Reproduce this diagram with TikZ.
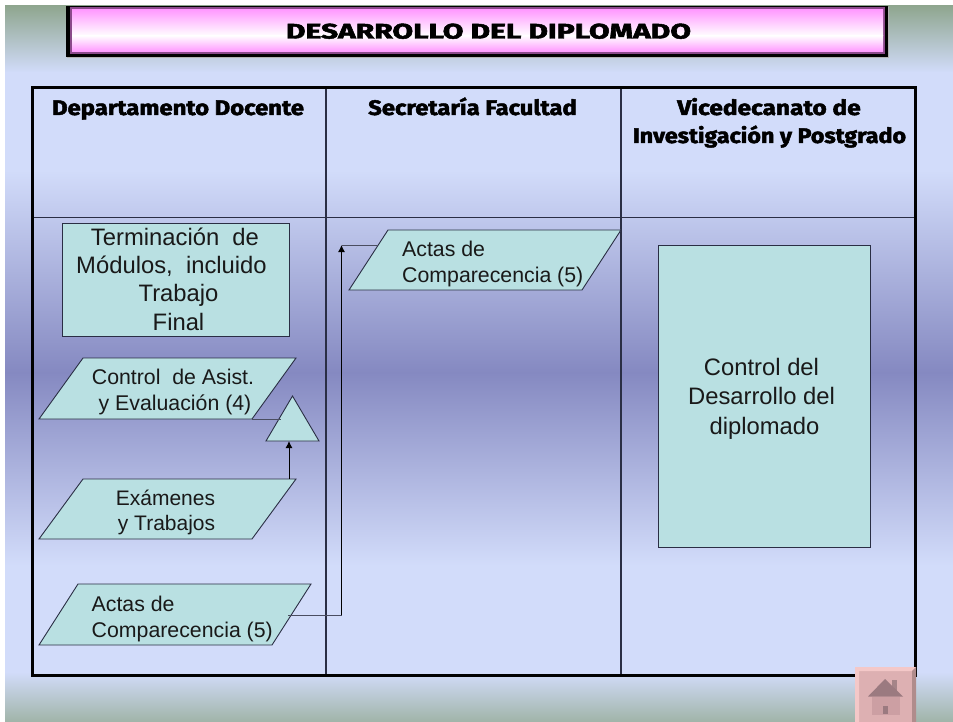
\documentclass[tikz,border=0pt]{standalone}
\usepackage{fontspec}
\setmainfont{Liberation Sans}
\newfontfamily\heavyfont[BoldFeatures={FakeBold=2.2}]{Fira Sans}
\usetikzlibrary{arrows.meta}
\newcommand{\hdr}[1]{\scalebox{1.135}[1]{#1}}
\definecolor{boxfill}{HTML}{B9E0E2}
\definecolor{linedark}{HTML}{2A2E44}
\definecolor{bgA}{HTML}{8FA68F}
\definecolor{bgB}{HTML}{D2DCFA}
\definecolor{bgC}{HTML}{8589C1}
\definecolor{bgD}{HTML}{A0B4A8}
\definecolor{titlepink}{HTML}{FF99FF}
\definecolor{titleedge}{HTML}{8A4A8A}
\definecolor{homeA}{HTML}{DDB0B2}
\definecolor{homeB}{HTML}{F4C8C8}
\definecolor{homeC}{HTML}{B08C8C}
\definecolor{homeD}{HTML}{A58488}
\definecolor{homeE}{HTML}{9B7A80}
\definecolor{homeF}{HTML}{CC9FA3}
\tikzset{
  x=1pt,y=-1pt,
  flowbox/.style={draw=linedark,line width=0.9pt,fill=boxfill},
  flowtext/.style={inner sep=0pt,align=center,text=black!90},
  headtext/.style={inner sep=0pt,anchor=base,font=\heavyfont\bfseries\fontsize{21}{30}\selectfont},
  txtL/.style={font=\fontsize{23.8}{28.4}\selectfont},
  txtC/.style={font=\fontsize{23.8}{29.5}\selectfont},
  txtM/.style={font=\fontsize{21.3}{26}\selectfont},
  txtN/.style={font=\fontsize{21}{25}\selectfont},
  thin rule/.style={draw=linedark,line width=1.1pt},
  connector/.style={draw=linedark!85,line width=0.9pt},
  arrowline/.style={draw=black,line width=1pt,-{Latex[length=7pt,width=7pt]}},
}
\begin{document}
\begin{tikzpicture}
\useasboundingbox (0,0) rectangle (953,722);
\fill[white] (0,0) rectangle (953,722);
% background
\shade[top color=bgA,bottom color=bgB] (5,6) rectangle (953,72.5);
\fill[bgB] (5,72) rectangle (953,170.5);
\shade[top color=bgB,bottom color=bgC] (5,170) rectangle (953,372.5);
\shade[top color=bgC,bottom color=bgB] (5,372) rectangle (953,565.5);
\fill[bgB] (5,565) rectangle (953,672.5);
\shade[top color=bgB,bottom color=bgD] (5,672) rectangle (953,722);
% title
\fill[gray!60!white] (67,7) rectangle (889,58);
\fill[black] (66,6) rectangle (888,57);
\fill[titleedge] (70,7.5) rectangle (885,54);
\shade[top color=titlepink,bottom color=white] (72,9.5) rectangle (883,36);
\shade[top color=white,bottom color=titlepink] (72,35.5) rectangle (883,51.5);
\node[headtext] (title) at (488.5,38.5) {\scalebox{1.43}[1]{DESARROLLO DEL DIPLOMADO}};
% table
\draw[thin rule] (326,87) -- (326,675);
\draw[thin rule] (621,87) -- (621,675);
\draw[thin rule] (32,217.5) -- (916,217.5);
\draw[black,line width=3pt] (32,87.5) rectangle (915.5,675);
\node[headtext] (h1) at (178,115) {\hdr{Departamento Docente}};
\node[headtext] (h2) at (472.5,115) {\hdr{Secretaría Facultad}};
\node[headtext] (h3a) at (769,115) {\scalebox{1.165}[1]{Vicedecanato de}};
\node[headtext] (h3b) at (769.5,143) {\scalebox{1.11}[1]{Investigación y Postgrado}};
% rectangles
\node[flowbox,minimum width=227pt,minimum height=113pt,inner sep=0pt] (term) at (175.5,279.5) {};
\node[flowtext,txtL] (termt) at (175,279) {Terminación\ \ de\\\hspace*{-7pt}Módulos,\ \ incluido\\\hspace*{7pt}Trabajo\\\hspace*{7pt}Final};
\node[flowbox,minimum width=212pt,minimum height=302pt,inner sep=0pt] (ctrl) at (764,396) {};
\node[flowtext,txtC] (ctrlt) at (761.5,398.5) {Control del\\Desarrollo del\\\hspace*{6pt}diplomado};
% parallelograms
\draw[flowbox] (388,230) -- (621,230) -- (582,290) -- (349,290) -- cycle;
\node[flowtext,txtM,align=left,anchor=west] (act1) at (402,264) {Actas de\\Comparecencia (5)};
\draw[flowbox] (83,358) -- (296,358) -- (252,419) -- (39,419) -- cycle;
\node[flowtext,txtM] (asis) at (173,392) {Control\ \ de Asist.\\\hspace*{4pt}y Evaluación (4)};
\draw[flowbox] (83,479) -- (296,479) -- (252,539) -- (39,539) -- cycle;
\node[flowtext,txtN] (exam) at (165.5,512.5) {Exámenes\\\hspace*{2pt}y Trabajos};
\draw[flowbox] (78,584) -- (311,584) -- (272,645) -- (39,645) -- cycle;
\node[flowtext,txtM,align=left,anchor=west] (act2) at (91.5,618.5) {Actas de\\Comparecencia (5)};
% triangle
\draw[flowbox] (292.5,396) -- (319,441) -- (266,441) -- cycle;
% connectors
\coordinate (asisOut) at (252,419);
\coordinate (triIn) at (281,419);
\coordinate (examOut) at (289,479);
\coordinate (triBase) at (289,441);
\coordinate (act2Out) at (288,615);
\coordinate (bendLow) at (341.5,615);
\coordinate (bendHigh) at (341.5,245);
\coordinate (act1In) at (378,245);
\draw[connector] (asisOut) -- (triIn);
\draw[arrowline] (examOut) -- (triBase);
\draw[connector] (act2Out) -- (bendLow);
\draw[arrowline] (bendLow) -- (bendHigh);
\draw[connector] (bendHigh) -- (act1In);
% home button
\fill[homeA] (855,667) rectangle (916,722);
\fill[homeB] (855,667) -- (916,667) -- (912,671) -- (859,671) -- (859,722) -- (855,722) -- cycle;
\fill[homeC] (916,667) -- (916,722) -- (912,722) -- (912,671) -- cycle;
\fill[homeD] (892,680) rectangle (897,692);
\fill[homeE] (885,679) -- (903,696.5) -- (868,696.5) -- cycle;
\fill[homeF] (872,696.5) rectangle (899.5,715);
\fill[homeE] (883,705.5) rectangle (888,714);
\end{tikzpicture}
\end{document}
